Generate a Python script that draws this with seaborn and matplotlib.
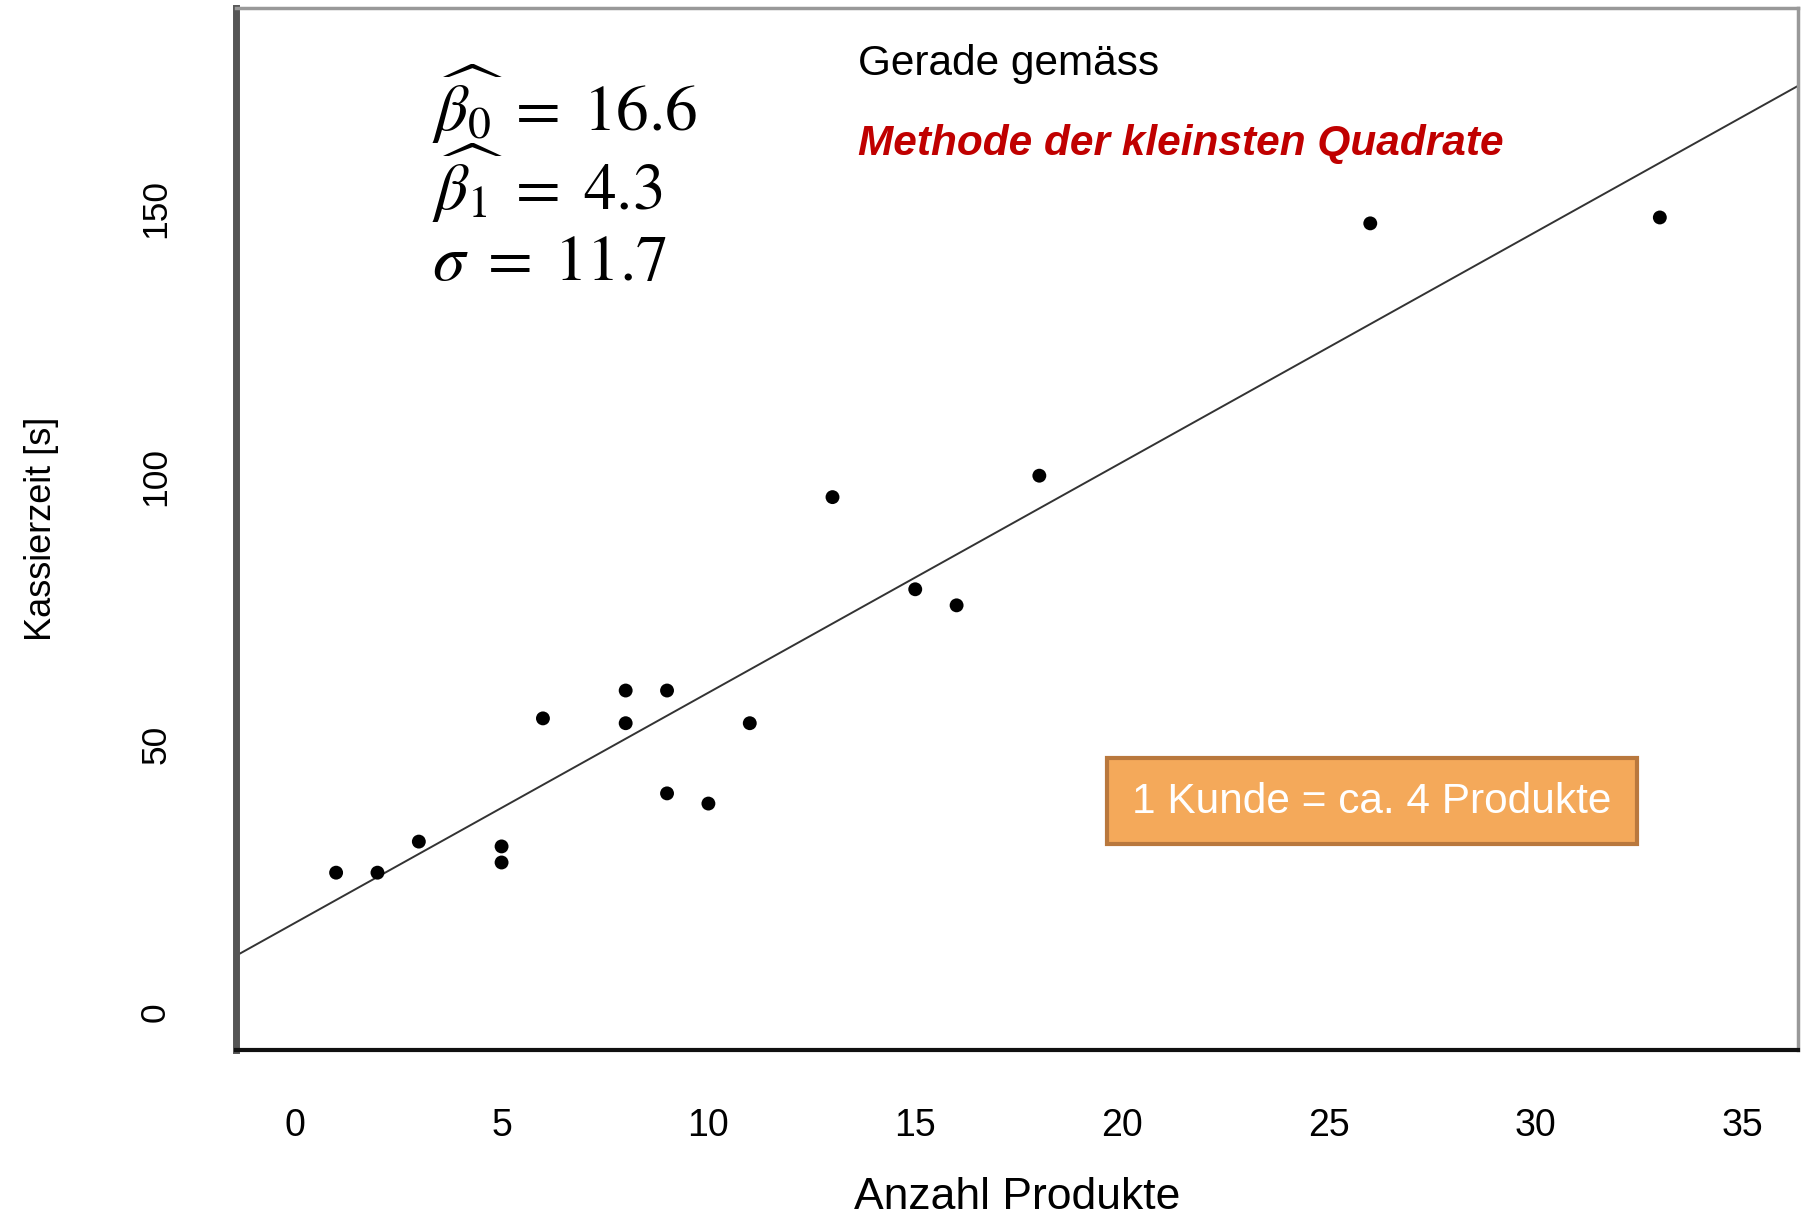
import matplotlib
matplotlib.use("Agg")
import matplotlib.pyplot as plt
import seaborn as sns
import pandas as pd
from matplotlib.patches import Rectangle

# Data
anzahl_produkte = [1, 2, 3, 5, 5, 6, 8, 8, 9, 9, 10, 11, 13, 15, 16, 18, 26, 33]
kassierzeit = [26, 26, 31.8, 30.9, 27.9, 54.8, 60, 53.9, 60, 40.8, 38.9, 53.9,
               96.1, 78.9, 75.9, 100.1, 147.2, 148.3]
beta0 = 16.6
beta1 = 4.3
sigma = 11.7
x_ticks = [0, 5, 10, 15, 20, 25, 30, 35]
y_ticks = [0, 50, 100, 150]

df = pd.DataFrame({"Anzahl Produkte": anzahl_produkte, "Kassierzeit [s]": kassierzeit})

sns.set_style("white")
plt.rcParams["font.family"] = ["Liberation Sans", "DejaVu Sans"]
plt.rcParams["mathtext.fontset"] = "stix"
plt.rcParams["text.color"] = "black"
plt.rcParams["axes.labelcolor"] = "black"
plt.rcParams["xtick.color"] = "black"
plt.rcParams["ytick.color"] = "black"

W, H = 1805, 1219
fig = plt.figure(figsize=(W / 100, H / 100), dpi=100)


def px(x, y):
    # figure pixel -> figure fraction
    return x / W, 1 - y / H


ax = fig.add_axes([236 / W, 1 - 1050 / H, (1798 - 236) / W, (1050 - 8) / H])
ax.set_xlim(-1.42, 36.34)
ax.set_ylim(-7.1, 187.4)

sns.scatterplot(data=df, x="Anzahl Produkte", y="Kassierzeit [s]", ax=ax,
                color="black", s=100, edgecolor="none", zorder=3)
ax.axline((0, beta0), slope=beta1, color="#333333", lw=1.4, zorder=2)

ax.set_xticks(x_ticks)
ax.set_yticks(y_ticks)
ax.tick_params(axis="both", direction="out", length=20, width=1.2, color="#333333")
ax.tick_params(axis="x", labelsize=27, pad=22)
ax.tick_params(axis="y", labelsize=25.5, pad=26)
for lbl in ax.get_yticklabels():
    lbl.set_rotation(90)
    lbl.set_va("center")

ax.set_xlabel("Anzahl Produkte", fontsize=32, va="bottom")
ax.xaxis.set_label_coords(0.5, -0.161)
ax.set_ylabel("Kassierzeit [s]", fontsize=26)
ax.yaxis.set_label_coords(-0.113, 0.5)

for side, (c, w) in {"left": ("#555555", 5), "bottom": ("#111111", 3),
                     "top": ("#999999", 2.5), "right": ("#999999", 2.5)}.items():
    ax.spines[side].set_color(c)
    ax.spines[side].set_linewidth(w)

# Estimates in the top-left corner
fig.text(*px(432, 104), r"$\widehat{\beta_0}\;=\;%.1f$" % beta0, fontsize=47,
         va="center", ha="left")
fig.text(*px(432, 183), r"$\widehat{\beta_1}\;=\;%.1f$" % beta1, fontsize=47,
         va="center", ha="left")
fig.text(*px(432, 263), r"$\sigma\;=\;%.1f$" % sigma, fontsize=47,
         va="center", ha="left")

fig.text(*px(858, 64), "Gerade gemäss", fontsize=30.5, va="center", ha="left")
fig.text(*px(858, 144), "Methode der kleinsten Quadrate", fontsize=30.5,
         color="#C00000", fontweight="bold", fontstyle="italic", va="center", ha="left")

# Orange note box
bx0, by0 = px(1107, 844)
box = Rectangle((bx0, by0), 530 / W, 86 / H, transform=fig.transFigure,
                facecolor="#F4A95A", edgecolor="#B9783D", lw=3, zorder=5)
fig.patches.append(box)
fig.text(*px(1372, 802), "1 Kunde = ca. 4 Produkte", fontsize=30.5, color="white",
         va="center", ha="center", zorder=6)

fig.savefig("out.png", dpi=100)
